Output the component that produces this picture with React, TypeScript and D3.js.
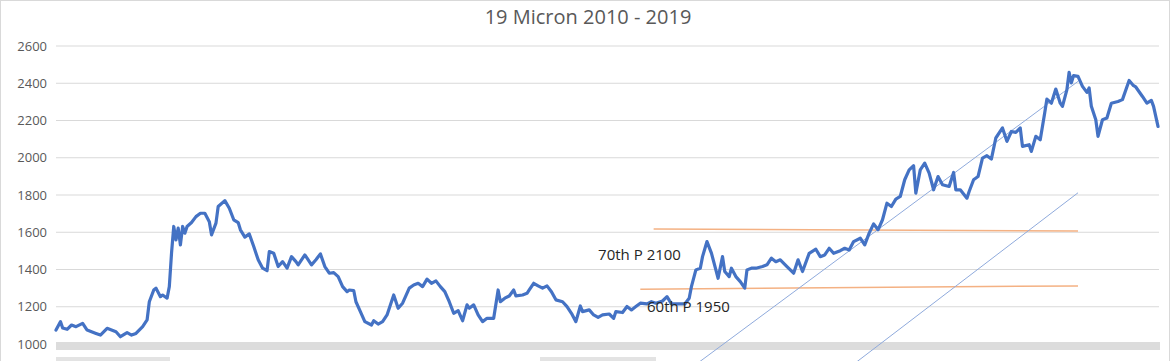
import { line, scaleLinear } from 'd3'
import { useMemo } from 'react'

const width = 1176
const height = 361
const plot = { left: 56, right: 1158, top: 46, bottom: 344 }

const title = '19 Micron 2010 - 2019'
const yTicks = [1000, 1200, 1400, 1600, 1800, 2000, 2200, 2400, 2600]

// weeks since Jan 2010
const weeks = [
  0, 2, 3, 5, 7, 9, 12, 14, 18, 20, 23, 27, 29, 32, 34, 36, 39, 41, 42, 44, 45, 47, 48, 50, 51,
  52, 53, 54, 55, 56, 57, 58, 59, 61, 63, 65, 67, 69, 70, 72, 73, 76, 78, 80, 82, 83, 85, 87, 89,
  91, 93, 95, 96, 98, 100, 102, 104, 106, 108, 109, 112, 113, 115, 117, 119, 121, 123, 125, 127,
  129, 131, 132, 134, 135, 137, 139, 142, 143, 145, 147, 149, 152, 154, 156, 159, 161, 163, 165,
  167, 169, 171, 173, 175, 177, 179, 181, 183, 185, 186, 188, 190, 192, 194, 197, 199, 200, 202,
  204, 206, 207, 210, 212, 213, 215, 217, 219, 221, 223, 225, 228, 230, 232, 234, 236, 237, 240,
  242, 244, 246, 249, 251, 252, 255, 257, 259, 261, 263, 266, 268, 270, 273, 275, 277, 280, 283,
  285, 286, 288, 290, 291, 293, 295, 297, 298, 300, 301, 303, 304, 306, 308, 310, 311, 313, 315,
  318, 320, 322, 324, 326, 329, 332, 334, 336, 339, 342, 344, 346, 348, 350, 353, 355, 357, 359,
  362, 364, 366, 368, 370, 372, 374, 376, 378, 380, 382, 384, 386, 387, 389, 391, 393, 395, 397,
  399, 402, 404, 405, 407, 410, 411, 413, 415, 417, 419, 421, 423, 426, 428, 430, 432, 434, 435,
  438, 439, 441, 443, 445, 446, 448, 450, 452, 453, 455, 456, 457, 458, 460, 462, 464, 465, 466,
  468, 469, 471, 473, 475, 478, 480, 483, 485, 486, 489, 491, 493, 494, 496,
]

const prices = [
  1075, 1120, 1086, 1079, 1102, 1093, 1111, 1075, 1057, 1048, 1084, 1066, 1039, 1061, 1048, 1057,
  1093, 1129, 1227, 1290, 1300, 1254, 1263, 1246, 1308,
  1488, 1631, 1559, 1622, 1532, 1631, 1595, 1631, 1652, 1684, 1702, 1702, 1657, 1586, 1649, 1738,
  1770, 1729, 1667, 1652, 1613, 1574, 1591, 1523,
  1452, 1407, 1394, 1496, 1487, 1416, 1442, 1407, 1469, 1442, 1425, 1478, 1461, 1425, 1452, 1484,
  1416, 1380, 1383, 1362,
  1308, 1281, 1290, 1287, 1227, 1174, 1120, 1102, 1125, 1107, 1120, 1156, 1263, 1192, 1219, 1300,
  1317, 1326, 1308,
  1348, 1326, 1339, 1308, 1281, 1227, 1165, 1179, 1125, 1210, 1192, 1210, 1156, 1120, 1138, 1138,
  1290, 1227, 1246,
  1258, 1290, 1258, 1263, 1272, 1290, 1326, 1312, 1300, 1312, 1281, 1237, 1227, 1201, 1165, 1120,
  1204, 1174, 1183,
  1156, 1143, 1156, 1161, 1138, 1174, 1169, 1201, 1183, 1201, 1219, 1215, 1227, 1219, 1231, 1254,
  1215, 1215, 1215,
  1246, 1308, 1398, 1407, 1469, 1550, 1488, 1398, 1353, 1469, 1389, 1362, 1407, 1362, 1335, 1300,
  1398, 1407, 1407,
  1416, 1425, 1461, 1442, 1452, 1416, 1380, 1452, 1389, 1487, 1509, 1469, 1478, 1514, 1487, 1501,
  1514, 1505, 1550,
  1568, 1532, 1595, 1645, 1613, 1667, 1756, 1738, 1778, 1792, 1882, 1935, 1957, 1810, 1935, 1971,
  1917, 1828, 1899,
  1855, 1846, 1921, 1828, 1828, 1783, 1819, 1882, 1899, 1998, 2011, 1993, 2106, 2160, 2088, 2141,
  2136, 2160, 2061,
  2070, 2034, 2115, 2097, 2240, 2315, 2293, 2369, 2293, 2276, 2366, 2459, 2402, 2441, 2437, 2383,
  2351, 2375, 2276,
  2204, 2115, 2204, 2213, 2293, 2302, 2312, 2415, 2387, 2380, 2329, 2293, 2308, 2276, 2168,
]

// trend lines [week, price]
const trendUpper: [number, number][] = [[282, 837], [460, 2410]]
const trendLower: [number, number][] = [[355, 855], [460, 1812]]
const p70Line: [number, number][] = [[269, 1617], [460, 1607]]
const p60Line: [number, number][] = [[263, 1294], [460, 1312]]

const labels = [
  { text: '70th P 2100', week: 244, price: 1450 },
  { text: '60th P 1950', week: 266, price: 1170 },
]

const App = () => {
  const x = useMemo(() => scaleLinear().domain([0, 496]).range([plot.left, plot.right]), [])
  const y = useMemo(() => scaleLinear().domain([1000, 2600]).range([plot.bottom, plot.top]), [])

  const path = line<[number, number]>()
    .x((d) => x(d[0]))
    .y((d) => y(d[1]))

  const series = weeks.map((w, i) => [w, prices[i]] as [number, number])

  return (
    <svg
      width={width}
      height={height}
      style={{ position: 'absolute', left: 0, top: 0, background: '#fff' }}
      fontFamily="'Open Sans', sans-serif"
    >
      <rect x={0.5} y={0.5} width={1169} height={height + 4} fill="#fff" stroke="#d9d9d9" />
      <text x={width / 2} y={24} textAnchor="middle" fontSize={20} fill="#595959">
        {title}
      </text>

      {yTicks.map((t) => (
        <g key={t}>
          {t > 1000 && (
            <line x1={plot.left} x2={plot.right + 1} y1={y(t)} y2={y(t)} stroke="#d9d9d9" strokeWidth={1} />
          )}
          <text x={47} y={y(t)} dy="0.35em" textAnchor="end" fontSize={13} fill="#595959">
            {t}
          </text>
        </g>
      ))}

      <rect x={plot.left} y={y(1000) - 2} width={plot.right - plot.left + 2} height={8} fill="#dcdcdc" />
      <rect x={plot.left} y={357} width={114} height={4} fill="#e3e3e3" />
      <rect x={540} y={357} width={116} height={4} fill="#e3e3e3" />

      <path d={path(p70Line) ?? ''} fill="none" stroke="#f4b183" strokeWidth={1.5} />
      <path d={path(p60Line) ?? ''} fill="none" stroke="#f4b183" strokeWidth={1.5} />
      <path d={path(trendUpper) ?? ''} fill="none" stroke="#8faadc" strokeWidth={1} />
      <path d={path(trendLower) ?? ''} fill="none" stroke="#8faadc" strokeWidth={1} />

      <path
        d={path(series) ?? ''}
        fill="none"
        stroke="#4472c4"
        strokeWidth={3.2}
        strokeLinejoin="round"
        strokeLinecap="round"
      />

      {labels.map((l) => (
        <text key={l.text} x={x(l.week)} y={y(l.price)} fontSize={15} fill="#262626">
          {l.text}
        </text>
      ))}
    </svg>
  )
}

export default App
